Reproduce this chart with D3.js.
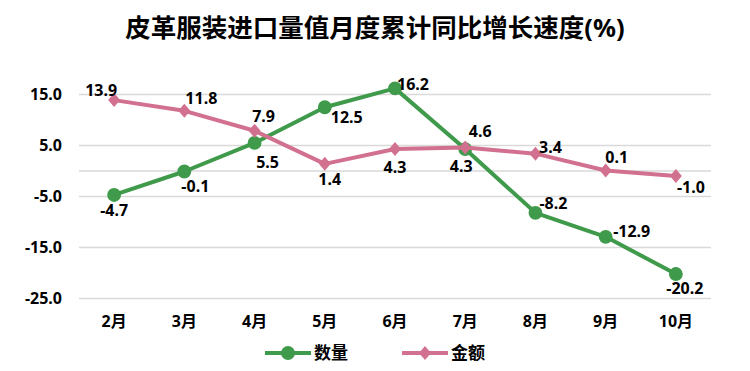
<!DOCTYPE html>
<html>
<head>
<meta charset="utf-8">
<script src="https://cdn.jsdelivr.net/npm/d3@7"></script>
<style>
  body { margin: 0; background: #fff; }
  svg text { font-family: "Noto Sans", "Noto Sans CJK SC", sans-serif; font-weight: bold; fill: #000; }
</style>
</head>
<body>
<div id="content"></div>
<script>
const months = ['2月', '3月', '4月', '5月', '6月', '7月', '8月', '9月', '10月'];
const quantity = [-4.7, -0.1, 5.5, 12.5, 16.2, 4.3, -8.2, -12.9, -20.2];
const amount = [13.9, 11.8, 7.9, 1.4, 4.3, 4.6, 3.4, 0.1, -1.0];
const yTicks = [-25, -15, -5, 5, 15];
const seriesNames = ['数量', '金额'];

// label nudges relative to each point
const quantityLabelOffset = [[0, 15], [11, 15], [13, 19], [22, 10], [18, -4], [-4, 17], [18, -9], [26, -5], [9, 14]];
const amountLabelOffset = [[-13, -10], [17, -12], [9, -14], [5, 16], [0, 18], [15, -16], [15, -6], [11, -13], [15, 11]];

const W = 750, H = 371;
const green = '#3f9a4b', pink = '#d2708f';

// plain hyphen for negatives, like the original
const fmt = d3.formatLocale({ decimal: '.', thousands: ',', grouping: [3], currency: ['', ''], minus: '-' }).format('.1f');

const svg = d3.select('#content').append('svg')
  .attr('width', W).attr('height', H);

svg.append('text')
  .attr('x', W / 2).attr('y', 37)
  .attr('text-anchor', 'middle')
  .style('font-size', '25.5px')
  .text('皮革服装进口量值月度累计同比增长速度(%)');

const x = d3.scaleBand().domain(months).range([79, 711]).padding(0);
const y = d3.scaleLinear().domain([-25, 20]).range([298.5, 69]);
const cx = d => x(d) + x.bandwidth() / 2;

// gridlines + zero line
svg.append('g').selectAll('line')
  .data(yTicks.concat([0]))
  .join('line')
  .attr('x1', 79).attr('x2', 711)
  .attr('y1', d => y(d)).attr('y2', d => y(d))
  .attr('stroke', '#d9d9d9').attr('stroke-width', 1.5);

const yAxis = svg.append('g')
  .attr('transform', 'translate(62,0)')
  .call(d3.axisLeft(y).tickValues(yTicks).tickFormat(fmt).tickSize(0).tickPadding(0));
yAxis.select('.domain').remove();
yAxis.selectAll('text').style('font-size', '16px').style('font-family', null);

const xAxis = svg.append('g')
  .attr('transform', 'translate(0,316)')
  .call(d3.axisBottom(x).tickSize(0).tickPadding(0));
xAxis.select('.domain').remove();
xAxis.selectAll('text').style('font-size', '16px').style('font-family', null);

const line = d3.line().x((d, i) => cx(months[i])).y(d => y(d));

function drawSeries(vals, color, marker) {
  const g = svg.append('g');
  g.append('path')
    .attr('d', line(vals))
    .attr('fill', 'none').attr('stroke', color).attr('stroke-width', 4)
    .attr('stroke-linejoin', 'round');
  g.selectAll('path.m')
    .data(vals)
    .join('path')
    .attr('class', 'm')
    .attr('d', marker)
    .attr('transform', (d, i) => `translate(${cx(months[i])},${y(d)})`)
    .attr('fill', color);
  return g;
}

const circleSym = d3.symbol().type(d3.symbolCircle).size(150);
const diamondSym = 'M0,-7L6,0L0,7L-6,0Z';

drawSeries(quantity, green, circleSym);
drawSeries(amount, pink, diamondSym);

function drawLabels(vals, offsets) {
  svg.append('g').selectAll('text')
    .data(vals)
    .join('text')
    .attr('x', (d, i) => cx(months[i]) + offsets[i][0])
    .attr('y', (d, i) => y(d) + offsets[i][1])
    .attr('dy', '0.35em')
    .attr('text-anchor', 'middle')
    .style('font-size', '16px')
    .text(d => fmt(d));
}
drawLabels(quantity, quantityLabelOffset);
drawLabels(amount, amountLabelOffset);

// legend
const legend = svg.append('g').attr('transform', 'translate(0,353)');
const legendItems = [
  { name: seriesNames[0], color: green, marker: circleSym, x0: 265 },
  { name: seriesNames[1], color: pink, marker: diamondSym, x0: 402 },
];
legendItems.forEach(it => {
  legend.append('line')
    .attr('x1', it.x0).attr('x2', it.x0 + 46)
    .attr('stroke', it.color).attr('stroke-width', 4);
  legend.append('path')
    .attr('d', it.marker)
    .attr('transform', `translate(${it.x0 + 23},0)`)
    .attr('fill', it.color);
  legend.append('text')
    .attr('x', it.x0 + 49).attr('dy', '0.35em')
    .style('font-size', '17px')
    .text(it.name);
});
</script>
</body>
</html>
